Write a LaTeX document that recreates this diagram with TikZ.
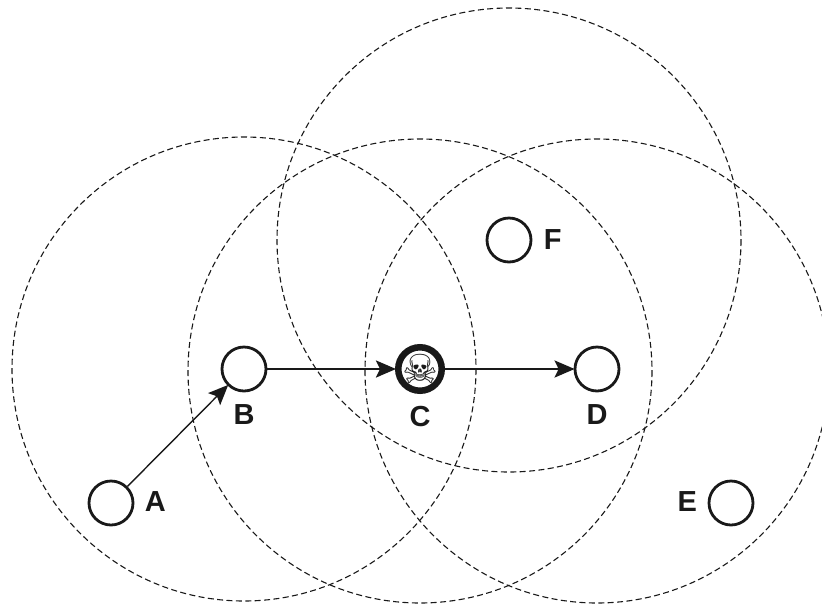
\documentclass[tikz,border=0pt]{standalone}
\usepackage{fontspec}
\setmainfont{Liberation Sans}
\newfontfamily\symbolfont{DejaVu Sans}
\usetikzlibrary{arrows.meta, positioning}

\begin{document}
\begin{tikzpicture}[
    x=1pt, y=-1pt,
    every node/.style={font=\fontsize{29}{29}\selectfont\bfseries, text=black!90},
    station/.style={draw=black!90, circle, line width=2.8pt, minimum size=44pt, inner sep=0pt, fill=white},
    radiorange/.style={draw=black!90, line width=1.1pt, dash pattern=on 6pt off 3.4pt},
    hop/.style={-{Stealth[length=20pt, width=17pt, inset=4pt]}, black!90, line width=2.6pt, shorten >=-1pt}
]
    \clip (0,0) rectangle (822,606);
    \useasboundingbox (0,0) rectangle (822,606);

    \coordinate (rb) at (244,369);
    \coordinate (rc) at (420,371);
    \coordinate (rd) at (597,371);
    \coordinate (rf) at (509,240);
    \draw[radiorange] (rb) circle [radius=232];
    \draw[radiorange] (rc) circle [radius=232];
    \draw[radiorange] (rd) circle [radius=232];
    \draw[radiorange] (rf) circle [radius=232];

    \node[station] (a) at (111,503) {};
    \node[station] (b) at (244,369) {};
    \node[station, line width=6.5pt, minimum size=43.5pt, inner sep=-8pt, font=\symbolfont\fontsize{40}{40}\selectfont] (c) at (420,369) {☠};
    \node[station] (d) at (597,369) {};
    \node[station] (e) at (731,503) {};
    \node[station] (f) at (509,240) {};

    \draw[hop, line width=1.4pt] (a) -- (b);
    \draw[hop] (b) -- (c);
    \draw[hop] (c) -- (d);

    \node[right=7pt of a, yshift=1pt] (la) {A};
    \node[below=9pt of b] (lb) {B};
    \node[below=9pt of c] (lc) {C};
    \node[below=9pt of d] (ld) {D};
    \node[left=7pt of e, yshift=1pt] (le) {E};
    \node[right=8pt of f] (lf) {F};
\end{tikzpicture}
\end{document}
